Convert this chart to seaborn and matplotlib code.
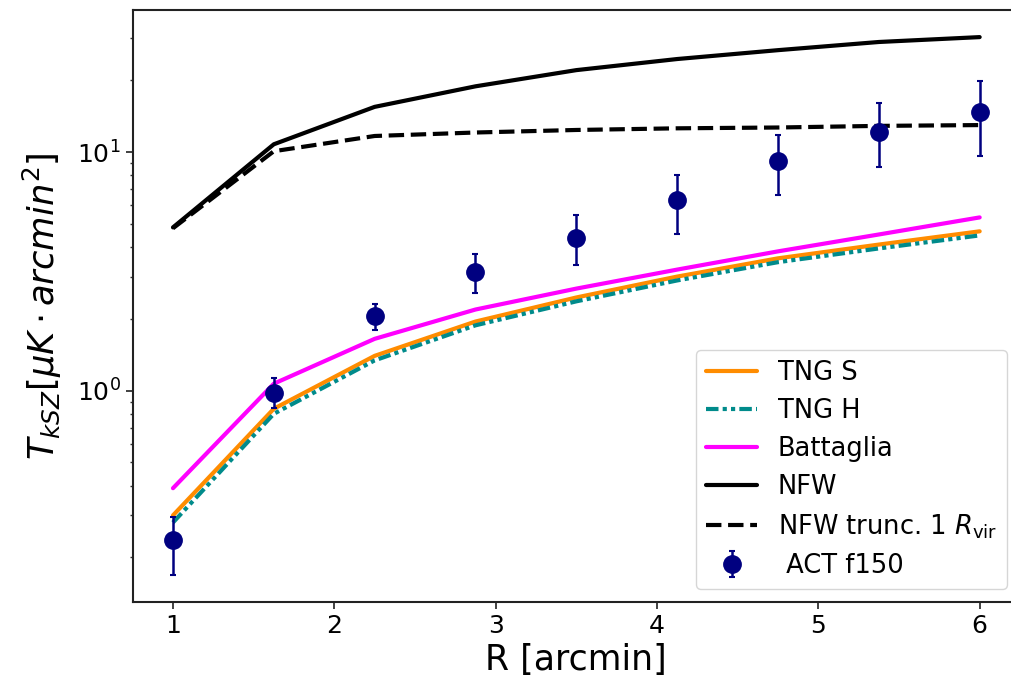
import numpy as np
import matplotlib
matplotlib.use("Agg")
import matplotlib.pyplot as plt
import seaborn as sns

# ── data ──────────────────────────────────────────────────────────────
R = [1.0, 1.625, 2.25, 2.875, 3.5, 4.125, 4.75, 5.375, 6.0]

tng_s     = [0.30, 0.84, 1.40, 1.95, 2.46, 3.01, 3.59, 4.10, 4.66]
tng_h     = [0.28, 0.80, 1.34, 1.88, 2.37, 2.90, 3.46, 3.95, 4.48]
battaglia = [0.39, 1.07, 1.65, 2.19, 2.68, 3.22, 3.84, 4.52, 5.33]
nfw       = [4.84, 10.8, 15.5, 18.9, 22.1, 24.6, 26.8, 29.0, 30.4]
nfw_trunc = [4.80, 10.1, 11.7, 12.1, 12.4, 12.6, 12.7, 12.9, 13.0]

act     = [0.237, 0.98, 2.05, 3.16, 4.39, 6.29, 9.17, 12.2, 14.7]
act_hi  = [0.296, 1.13, 2.32, 3.73, 5.43, 8.00, 11.8, 16.1, 19.9]
act_lo  = [0.169, 0.85, 1.79, 2.56, 3.38, 4.52, 6.59, 8.65, 9.60]

sns.set_style("ticks")
plt.rcParams["font.family"] = ["DejaVu Sans"]
plt.rcParams["mathtext.fontset"] = "dejavusans"
plt.rcParams["text.color"] = "black"
plt.rcParams["axes.labelcolor"] = "black"
plt.rcParams["xtick.labelcolor"] = "black"
plt.rcParams["ytick.labelcolor"] = "black"

fig = plt.figure(figsize=(10.11, 6.89), dpi=100)
ax = fig.add_axes([0.1312, 0.1263, 0.8777, 0.8592])

sns.lineplot(x=R, y=tng_s, ax=ax, color="darkorange", lw=3, label="TNG S")
sns.lineplot(x=R, y=tng_h, ax=ax, color="darkcyan", lw=3,
             linestyle=(0, (3, 1, 1, 1, 1, 1)), label="TNG H")
sns.lineplot(x=R, y=battaglia, ax=ax, color="magenta", lw=3, label="Battaglia")
sns.lineplot(x=R, y=nfw, ax=ax, color="black", lw=3, label="NFW")
sns.lineplot(x=R, y=nfw_trunc, ax=ax, color="black", lw=3, linestyle="--",
             label=r"NFW trunc. 1 $R_{\rm vir}$")

act_arr = np.array(act)
yerr = [act_arr - np.array(act_lo), np.array(act_hi) - act_arr]
ax.errorbar(R, act, yerr=yerr, fmt="o", color="navy", ms=12.5,
            elinewidth=1.8, capsize=2.5, capthick=1.5, label=" ACT f150")

ax.set_yscale("log")
ax.set_xlim(0.75, 6.25)
ax.set_ylim(0.13, 39.5)

ax.set_xlabel("R [arcmin]", fontsize=25)
ax.set_ylabel(r"$T_{kSZ}[\mu K \cdot arcmin^2]$", fontsize=25.5, labelpad=9)
ax.tick_params(axis="both", which="major", labelsize=18, length=5, width=1.3,
               color="#333333")
ax.tick_params(axis="y", which="minor", length=2.5, width=1.0, color="#333333")
for sp in ax.spines.values():
    sp.set_linewidth(1.5)
    sp.set_edgecolor("#222222")

ax.legend(loc="lower right", fontsize=18.5, labelspacing=0.47, frameon=True)

fig.savefig("out.png", dpi=100)
